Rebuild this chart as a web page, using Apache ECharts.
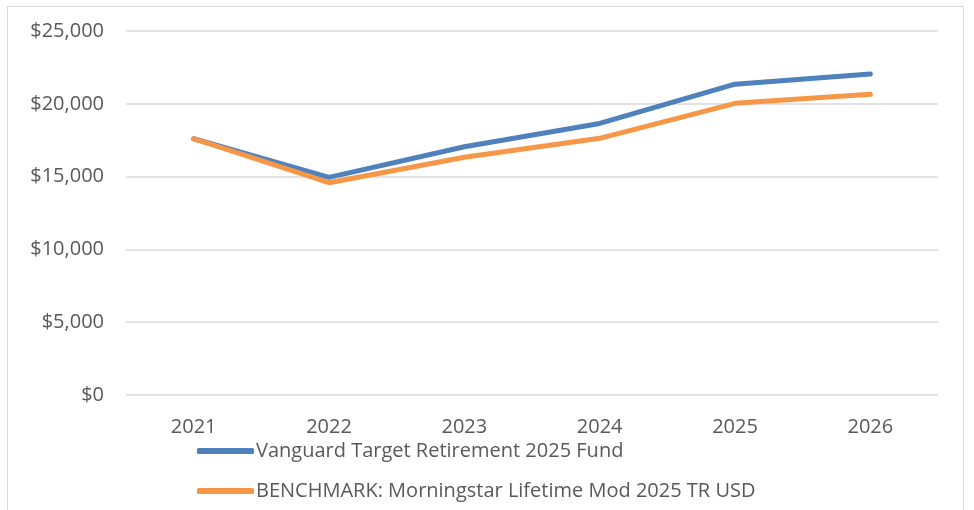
<!DOCTYPE html>
<html>
<head>
<meta charset="utf-8">
<script src="https://cdn.jsdelivr.net/npm/echarts@6/dist/echarts.min.js"></script>
<style>
  html, body { margin: 0; padding: 0; background: #fff; }
  #chart { width: 974px; height: 510px; }
</style>
</head>
<body>
<div id="chart"></div>
<script>
// 数据
var years = ['2021', '2022', '2023', '2024', '2025', '2026'];
var fundName = 'Vanguard Target Retirement 2025 Fund';
var benchName = 'BENCHMARK: Morningstar Lifetime Mod 2025 TR USD';
var fundValues = [17600, 14950, 17050, 18650, 21350, 22050];
var benchValues = [17600, 14580, 16330, 17630, 20030, 20650];

var textColor = '#595959';
var font = 'Open Sans';

var chart = echarts.init(document.getElementById('chart'));
chart.setOption({
  animation: false,
  graphic: [{
    type: 'rect',
    shape: { x: 7.5, y: 6.5, width: 956, height: 520 },
    style: { fill: 'none', stroke: '#d9d9d9', lineWidth: 1 },
    silent: true
  }],
  grid: { left: 126, right: 36, top: 31, bottom: 115 },
  legend: {
    orient: 'vertical',
    left: 192,
    top: 436,
    itemGap: 20,
    itemWidth: 57,
    itemHeight: 6,
    icon: 'roundRect',
    textStyle: { color: textColor, fontSize: 20, lineHeight: 20, fontFamily: font, padding: [0, 0, 0, -3] },
    data: [fundName, benchName]
  },
  xAxis: {
    type: 'category',
    data: years,
    boundaryGap: true,
    axisLine: { show: false },
    axisTick: { show: false },
    axisLabel: { color: textColor, fontSize: 20, fontFamily: font, margin: 22 }
  },
  yAxis: {
    type: 'value',
    min: 0,
    max: 25000,
    interval: 5000,
    axisLine: { show: false },
    axisTick: { show: false },
    splitLine: { lineStyle: { color: '#d9d9d9', width: 1.5 } },
    axisLabel: {
      color: textColor, fontSize: 20, fontFamily: font, margin: 22,
      formatter: function (v) { return '$' + v.toLocaleString('en-US'); }
    }
  },
  series: [{
    name: fundName,
    type: 'line',
    data: fundValues,
    symbol: 'none',
    color: '#4f81bd',
    lineStyle: { width: 5, cap: 'round', join: 'round' }
  }, {
    name: benchName,
    type: 'line',
    data: benchValues,
    symbol: 'none',
    color: '#f79646',
    lineStyle: { width: 5, cap: 'round', join: 'round' }
  }]
});
</script>
</body>
</html>
